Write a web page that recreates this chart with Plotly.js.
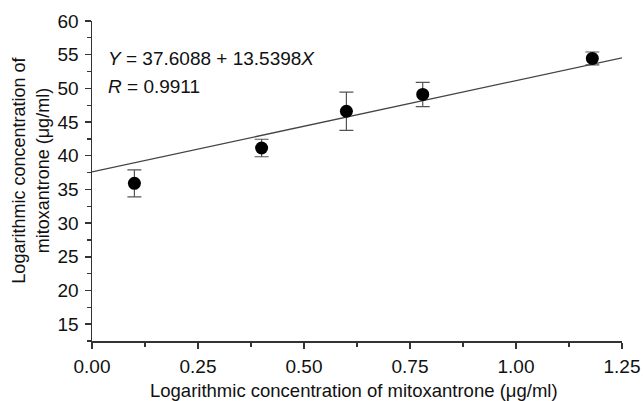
<!DOCTYPE html>
<html>
<head>
<meta charset="utf-8">
<script src="https://cdn.plot.ly/plotly-3.0.1.min.js"></script>
<style>html,body{margin:0;padding:0;background:#fff;}#chart{width:643px;height:401px;}</style>
</head>
<body>
<div id="chart"></div>
<script>
// Data
const xValues = [0.10, 0.40, 0.60, 0.78, 1.18];
const yValues = [35.9, 41.15, 46.6, 49.1, 54.45];
const yErrors = [2.0, 1.3, 2.85, 1.8, 0.95];
const fitIntercept = 37.6088;
const fitSlope = 13.5398;
const fitR = 0.9911;
const fitX = [0, 1.25];
const fitY = fitX.map(x => fitIntercept + fitSlope * x);
const xTickVals = [0, 0.25, 0.5, 0.75, 1.0, 1.25];
const xTickText = ["0.00", "0.25", "0.50", "0.75", "1.00", "1.25"];
const yTickVals = [15, 20, 25, 30, 35, 40, 45, 50, 55, 60];
const xTitle = "Logarithmic concentration of mitoxantrone (μg/ml)";
const yTitle = "Logarithmic concentration of<br>mitoxantrone (μg/ml)";

const font = "Liberation Sans, Arial, sans-serif";

const traces = [
  {
    x: fitX, y: fitY, mode: "lines", type: "scatter",
    line: {color: "#444", width: 1.3}, hoverinfo: "skip", showlegend: false
  },
  {
    x: xValues, y: yValues, mode: "markers", type: "scatter",
    marker: {color: "#000", size: 13},
    error_y: {type: "data", array: yErrors, visible: true, color: "#555", thickness: 1.2, width: 7},
    showlegend: false
  }
];

const layout = {
  width: 643, height: 401,
  margin: {l: 92, r: 21, t: 21, b: 60},
  paper_bgcolor: "#fff", plot_bgcolor: "#fff",
  font: {family: font, color: "#111"},
  xaxis: {
    range: [0, 1.25], tickvals: xTickVals, ticktext: xTickText,
    showgrid: false, zeroline: false, showline: true, linecolor: "#333", linewidth: 1.5,
    ticks: "outside", ticklen: 6, tickwidth: 1.5, tickcolor: "#333",
    minor: {dtick: 0.125, tick0: 0, ticks: "outside", ticklen: 4, tickwidth: 1.3, tickcolor: "#333"},
    tickfont: {size: 19, family: font, color: "#111"},
    ticklabelstandoff: 2,
    automargin: false
  },
  yaxis: {
    range: [12.5, 60], tickvals: yTickVals,
    showgrid: false, zeroline: false, showline: true, linecolor: "#333", linewidth: 1.5,
    ticks: "outside", ticklen: 6, tickwidth: 1.5, tickcolor: "#333",
    minor: {dtick: 2.5, tick0: 0, ticks: "outside", ticklen: 4, tickwidth: 1.3, tickcolor: "#333"},
    tickfont: {size: 19, family: font, color: "#111"},
    ticklabelstandoff: 2,
    automargin: false
  },
  annotations: [
    {x: 0.033, y: 54.5, xref: "x", yref: "y", xanchor: "left", yanchor: "middle", showarrow: false,
     text: "<i>Y</i> = " + fitIntercept.toFixed(4) + " + " + fitSlope.toFixed(4) + "<i>X</i>",
     font: {size: 19, family: font, color: "#111"}},
    {x: 0.033, y: 50.3, xref: "x", yref: "y", xanchor: "left", yanchor: "middle", showarrow: false,
     text: "<i>R</i> = " + fitR.toFixed(4),
     font: {size: 19, family: font, color: "#111"}},
    {x: 0.4934, y: -0.156, xref: "paper", yref: "paper", xanchor: "center", yanchor: "middle", showarrow: false,
     text: xTitle, font: {size: 18.5, family: font, color: "#111"}},
    {x: -0.116, y: 0.534, xref: "paper", yref: "paper", xanchor: "center", yanchor: "middle", showarrow: false,
     textangle: -90, text: yTitle, font: {size: 18, family: font, color: "#111"}}
  ]
};

Plotly.newPlot("chart", traces, layout, {displayModeBar: false, staticPlot: true});
</script>
</body>
</html>
